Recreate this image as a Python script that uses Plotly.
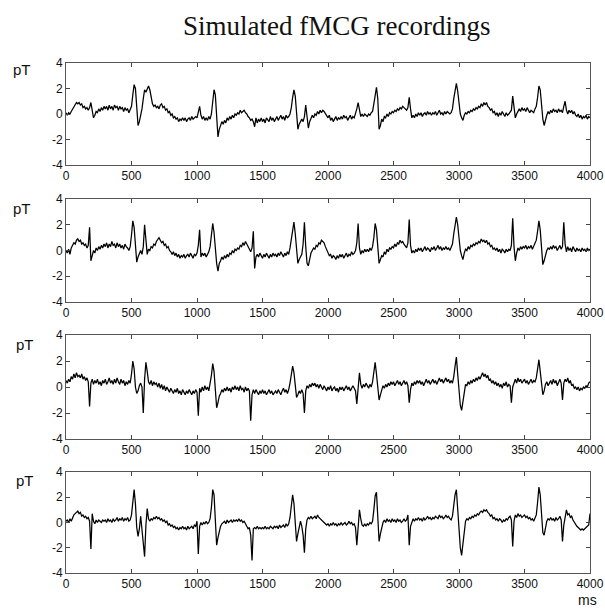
import plotly.graph_objects as go

# sample interval (ms) of the hand-read traces
step_ms = 10

ch1 = [
    0.1,-0.1,0.1,0.0,0.2,0.4,0.6,0.8,0.9,0.8,
    0.9,0.7,0.8,0.5,0.6,0.4,0.5,0.3,0.5,0.9,
    0.2,-0.3,-0.1,0.2,0.1,0.4,0.2,0.5,0.3,0.6,
    0.4,0.6,0.3,0.7,0.4,0.6,0.3,0.7,0.5,0.6,
    0.3,0.6,0.4,0.5,0.2,0.5,0.3,0.4,0.1,0.3,
    0.6,1.5,2.3,2.0,0.5,-0.9,-0.6,-0.1,0.4,1.2,
    1.9,1.7,2.0,2.2,1.9,1.2,0.8,0.6,0.7,0.5,
    0.6,0.4,0.7,0.8,0.5,0.6,0.3,0.4,0.1,0.2,
    -0.1,0.0,-0.3,-0.2,-0.4,-0.3,-0.6,-0.4,-0.5,-0.3,
    -0.5,-0.3,-0.6,-0.4,-0.3,-0.5,-0.2,-0.4,-0.3,-0.2,
    -0.3,0.1,0.6,-0.1,-0.4,-0.2,-0.5,-0.3,-0.5,-0.2,
    -0.4,0.0,0.9,1.9,1.5,-0.2,-1.8,-1.2,-0.9,-0.6,
    -0.8,-0.5,-0.7,-0.3,-0.5,-0.2,-0.4,-0.1,-0.3,0.0,
    -0.1,0.1,0.0,0.3,0.1,0.2,0.3,0.1,0.0,-0.2,
    -0.3,-0.5,-0.4,-0.6,-1.0,-0.3,-0.7,-0.4,-0.6,-0.3,
    -0.6,-0.4,-0.7,-0.3,-0.5,-0.6,-0.2,-0.5,-0.3,-0.6,
    -0.4,-0.2,-0.5,-0.3,-0.1,-0.4,-0.2,-0.5,-0.1,-0.3,
    -0.2,0.0,0.5,1.3,1.9,1.4,0.2,-1.2,-0.8,-0.6,
    -0.4,-0.6,-0.2,0.7,-0.2,-1.1,-0.6,-0.4,-0.1,-0.3,
    0.0,-0.1,0.2,0.0,0.3,0.1,0.3,0.2,0.0,-0.2,
    -0.3,-0.1,-0.5,-0.3,-0.6,-0.4,-0.2,-0.5,-0.3,-0.4,
    -0.2,-0.4,-0.1,-0.3,-0.2,-0.5,-0.3,-0.1,-0.4,-0.2,
    -0.3,0.0,0.4,0.9,0.2,-0.2,0.0,-0.2,0.0,-0.1,
    -0.2,0.0,-0.1,0.1,0.2,0.8,1.6,2.1,1.2,-1.2,
    -0.9,-0.4,-0.6,-0.2,-0.3,0.0,-0.2,0.1,0.0,0.2,
    0.1,0.3,0.2,0.4,0.3,0.5,0.4,0.6,0.5,0.4,
    0.3,0.5,1.3,0.4,-0.3,-0.1,-0.3,0.0,-0.2,0.1,
    -0.1,0.1,-0.2,0.0,0.1,-0.1,0.2,0.0,0.1,-0.1,
    0.1,0.0,0.2,-0.1,0.1,0.3,0.0,0.1,-0.1,0.2,
    0.0,0.2,0.1,0.0,0.1,0.4,1.2,2.0,2.4,1.8,
    0.6,0.0,-0.3,-0.5,-0.1,0.1,0.0,0.2,0.1,0.3,
    0.2,0.4,0.3,0.5,0.4,0.6,0.5,0.8,0.6,0.9,
    0.7,0.9,0.6,0.5,0.3,0.4,0.1,0.2,-0.1,0.1,
    -0.2,0.1,-0.1,0.2,0.0,-0.2,0.1,-0.1,0.0,0.2,
    0.3,1.4,0.6,-0.3,0.0,0.2,0.4,0.2,0.5,0.3,
    0.4,0.2,0.5,0.3,0.1,0.3,0.2,0.1,0.4,0.6,
    1.3,2.2,1.9,0.5,-0.4,-0.9,-0.4,-0.1,0.2,0.0,
    0.3,0.1,0.4,0.2,0.3,0.1,0.4,0.2,0.3,0.1,
    0.6,1.0,0.3,0.0,0.3,0.1,0.3,0.0,0.2,-0.1,
    -0.2,0.0,-0.3,-0.1,-0.4,-0.2,-0.3,-0.1,-0.4,-0.2,
    -0.3,
]

ch2 = [
    0.0,-0.2,0.1,-0.3,0.2,0.4,0.6,0.5,0.8,0.9,
    0.7,0.8,0.5,0.6,0.4,0.5,0.2,0.4,1.8,-0.8,
    -0.3,0.0,-0.2,0.2,0.0,0.3,0.1,0.4,0.2,0.5,
    0.3,0.6,0.2,0.5,0.3,0.7,0.4,0.5,0.2,0.6,
    0.3,0.5,0.2,0.4,0.1,0.5,0.3,0.2,0.0,0.3,
    1.2,2.3,1.8,0.2,-0.9,-0.5,-0.2,0.0,-0.3,0.3,
    2.0,0.5,-0.3,0.1,0.0,0.3,0.2,0.5,0.4,0.7,
    0.9,1.0,0.8,0.6,0.7,0.4,0.5,0.2,0.3,0.0,
    -0.1,-0.3,-0.1,-0.4,-0.2,-0.5,-0.3,-0.6,-0.4,-0.5,
    -0.3,-0.6,-0.4,-0.3,-0.5,-0.2,-0.4,-0.6,-0.3,-0.4,
    -0.2,0.4,1.6,-0.5,-0.2,-0.4,-0.2,-0.5,-0.3,-0.1,
    0.3,1.3,2.1,1.4,0.0,-1.0,-1.6,-1.0,-0.8,-0.5,
    -0.7,-0.4,-0.6,-0.3,-0.5,-0.2,-0.3,0.0,-0.2,0.1,
    0.0,0.2,0.1,0.4,0.3,0.6,0.4,0.7,0.5,0.3,
    0.1,-0.1,0.2,1.5,-1.4,-0.5,-0.3,-0.5,-0.2,-0.4,
    -0.6,-0.3,-0.5,-0.2,-0.4,-0.6,-0.3,-0.5,-0.2,-0.4,
    -0.3,-0.5,-0.2,-0.4,-0.1,-0.3,-0.5,-0.2,-0.4,-0.1,
    -0.3,0.2,0.9,1.8,2.2,1.3,-0.2,-1.0,-0.7,-0.5,
    -0.3,0.5,2.2,0.3,-1.0,-1.2,-0.6,-0.2,0.0,0.2,
    0.1,0.4,0.3,0.6,0.5,0.8,0.7,0.6,0.3,0.1,
    -0.2,-0.4,-0.3,-0.6,-0.4,-0.5,-0.7,-0.4,-0.6,-0.3,
    -0.5,-0.3,-0.6,-0.4,-0.2,-0.5,-0.3,-0.4,-0.1,-0.3,
    -0.2,0.0,0.6,2.1,0.2,-0.3,0.0,-0.2,0.1,-0.1,
    0.1,-0.1,0.2,0.0,0.3,1.0,2.1,1.6,0.2,-1.0,
    -0.7,-0.4,-0.5,-0.1,-0.3,0.1,-0.1,0.2,0.1,0.3,
    0.2,0.5,0.3,0.6,0.5,0.8,0.6,0.7,0.5,0.3,
    0.2,0.6,2.4,0.4,-0.2,0.0,-0.2,0.1,-0.1,0.2,
    0.0,0.2,-0.1,0.1,0.3,0.0,0.2,0.1,-0.1,0.2,
    0.1,0.3,0.0,0.2,0.4,0.1,0.3,0.0,0.2,0.1,
    0.3,0.1,0.2,0.0,0.2,0.5,1.3,2.1,2.6,2.0,
    0.8,0.0,-0.4,-0.7,-0.2,0.1,0.0,0.3,0.1,0.4,
    0.3,0.5,0.4,0.6,0.5,0.7,0.6,0.9,0.7,0.8,
    0.6,0.8,0.5,0.6,0.3,0.4,0.1,0.2,0.0,0.2,
    -0.1,0.1,-0.2,0.1,0.0,-0.2,0.1,-0.1,0.1,0.0,
    0.4,2.5,0.3,-0.8,-0.2,0.2,0.0,0.3,0.1,0.3,
    0.2,0.4,0.1,0.3,0.2,0.4,0.1,0.3,0.5,0.8,
    1.5,2.3,1.6,0.2,-1.1,-0.8,-0.3,0.0,0.2,0.1,
    0.3,0.1,0.4,0.2,0.3,0.0,0.2,0.4,0.1,0.3,
    2.2,0.5,-0.1,0.3,0.0,0.2,-0.1,0.3,0.1,-0.1,
    0.2,0.0,0.1,-0.1,0.2,0.0,0.1,-0.1,0.2,0.0,
    0.1,
]

ch3 = [
    0.5,0.3,0.6,0.4,0.8,0.6,1.0,0.7,1.1,0.8,
    0.9,0.7,1.0,0.6,0.8,0.5,0.7,0.4,-1.5,0.3,
    0.6,0.2,0.5,0.3,0.6,0.2,0.4,0.1,0.5,0.3,
    0.6,0.2,0.4,0.7,0.3,0.5,0.2,0.6,0.3,0.7,
    0.4,0.2,0.6,0.3,0.5,0.1,0.4,0.2,0.5,0.3,
    1.0,2.0,1.4,0.0,-0.5,-0.3,0.1,0.3,0.0,-2.0,
    0.6,1.9,1.2,0.4,0.2,0.5,0.1,0.4,0.2,0.3,
    0.0,0.3,-0.1,0.2,-0.2,0.1,-0.3,0.0,-0.2,-0.4,
    -0.1,-0.3,-0.5,-0.2,-0.4,-0.1,-0.5,-0.3,-0.6,-0.2,
    -0.4,-0.6,-0.3,-0.5,-0.2,-0.4,-0.6,-0.3,-0.5,-0.2,
    -0.4,-2.2,-0.1,-0.4,0.0,-0.3,0.1,-0.2,0.0,-0.3,
    0.2,0.9,1.8,1.2,-0.2,-1.6,-1.2,-0.7,-0.5,-0.2,
    -0.4,-0.1,-0.3,0.0,-0.3,-0.1,-0.4,0.0,-0.2,0.1,
    -0.2,0.0,-0.3,0.1,-0.2,-0.1,-0.4,0.0,-0.3,-0.1,
    -0.3,-2.6,-0.6,-0.2,-0.5,-0.2,-0.4,-0.6,-0.3,-0.5,
    -0.2,-0.5,-0.3,-0.6,-0.4,-0.2,-0.5,-0.3,-0.6,-0.4,
    -0.3,-0.5,-0.2,-0.4,-0.6,-0.3,-0.1,-0.4,-0.2,-0.5,
    -0.2,0.3,1.0,1.6,1.1,-0.2,-0.8,-0.6,-0.3,-0.5,
    -0.2,-0.5,-2.0,-0.3,0.1,-0.1,0.2,0.0,0.3,0.1,
    0.3,0.0,0.2,-0.1,0.2,0.0,-0.2,0.1,-0.1,-0.3,
    0.0,-0.2,0.1,-0.3,-0.1,0.0,-0.3,-0.1,-0.4,0.0,
    -0.2,0.0,-0.3,-0.1,0.1,-0.2,0.0,-0.3,-0.1,0.1,
    -0.1,-0.3,-1.3,0.2,1.1,0.2,-0.1,0.2,0.0,0.3,
    0.1,-0.1,0.2,0.0,0.4,1.2,1.9,1.0,-0.3,-1.0,
    -0.6,-0.2,0.1,-0.1,0.2,0.0,0.3,0.1,0.4,0.2,
    0.4,0.1,0.3,0.5,0.2,0.4,0.1,0.3,0.5,0.2,
    0.4,0.1,-1.2,-0.2,0.3,0.1,0.4,0.2,0.5,0.3,
    0.5,0.2,0.4,0.1,0.3,0.6,0.3,0.5,0.2,0.4,
    0.6,0.3,0.5,0.2,0.4,0.7,0.4,0.6,0.3,0.5,
    0.7,0.4,0.6,0.3,0.5,0.3,0.8,1.6,2.3,1.0,
    -0.6,-1.4,-1.8,-1.0,-0.3,0.2,0.1,0.4,0.2,0.5,
    0.3,0.6,0.4,0.7,0.5,0.8,0.6,0.9,1.1,0.8,
    1.0,0.7,0.9,0.5,0.6,0.3,0.5,0.2,0.4,0.1,
    0.3,0.0,0.2,-0.1,0.3,0.1,0.4,0.0,0.2,0.1,
    -1.2,0.0,0.4,0.6,0.3,0.7,0.4,0.6,0.3,0.5,
    0.6,0.3,0.5,0.2,0.4,0.6,0.3,0.5,0.4,0.7,
    1.4,2.1,1.2,0.0,-0.6,-0.3,0.2,0.4,0.1,0.3,
    0.5,0.2,0.6,0.3,0.5,0.1,0.4,0.6,0.3,-1.0,
    0.3,0.6,0.4,0.7,0.3,0.5,0.1,0.2,-0.1,0.0,
    -0.2,0.0,-0.3,-0.1,-0.2,0.0,-0.1,0.1,0.0,0.3,
    0.4,
]

ch4 = [
    0.1,0.2,0.0,0.3,0.1,0.4,0.6,0.7,0.8,0.9,
    0.7,0.8,0.5,0.6,0.4,0.5,0.3,0.4,0.1,-2.1,
    0.7,0.1,-0.1,0.2,0.0,0.2,0.1,0.0,0.2,0.1,
    0.2,0.0,0.3,0.1,0.2,0.0,0.3,0.1,0.2,0.4,
    0.1,0.3,0.2,0.4,0.1,0.3,0.2,0.4,0.1,0.2,
    0.6,1.8,2.6,1.5,-0.4,-1.1,-0.5,0.5,-0.8,-1.6,
    -2.7,-0.2,1.1,0.3,0.1,0.3,0.2,0.4,0.3,0.5,
    0.3,0.4,0.2,0.3,0.1,0.2,0.0,0.1,-0.2,-0.1,
    -0.3,-0.2,-0.4,-0.3,-0.5,-0.4,-0.6,-0.4,-0.5,-0.3,
    -0.5,-0.4,-0.6,-0.3,-0.5,-0.4,-0.3,-0.5,-0.2,-0.3,
    0.1,-2.5,-0.3,0.0,-0.2,0.0,-0.1,0.1,-0.1,0.0,
    0.3,1.2,2.6,2.2,0.3,-1.8,-1.2,-0.6,-0.3,-0.1,
    0.0,0.1,-0.1,0.2,0.0,0.1,0.2,0.0,0.2,0.1,
    0.2,0.1,0.3,0.1,0.2,0.0,0.1,-0.1,-0.3,-0.5,
    -0.4,-1.0,-3.0,-0.5,-0.4,-0.5,-0.3,-0.5,-0.4,-0.5,
    -0.4,-0.5,-0.3,-0.5,-0.4,-0.5,-0.3,-0.4,-0.5,-0.3,
    -0.4,-0.3,-0.5,-0.2,-0.4,-0.3,-0.2,-0.4,-0.1,-0.3,
    -0.1,0.4,1.4,2.2,1.5,-0.3,-1.5,-0.9,-0.3,0.1,
    -0.3,-1.0,-2.4,-0.5,0.2,0.4,0.3,0.5,0.3,0.4,
    0.5,0.3,0.6,0.4,0.3,0.2,0.1,0.0,-0.1,-0.2,
    -0.1,-0.3,-0.1,-0.2,0.0,-0.2,-0.1,-0.3,-0.1,-0.2,
    0.0,-0.2,-0.1,0.0,-0.2,-0.1,0.1,-0.1,0.0,-0.2,
    -0.1,-0.4,-1.8,-0.2,1.0,0.3,-0.2,-0.3,-0.1,-0.3,
    -0.1,-0.2,0.0,-0.1,0.1,1.0,2.1,2.4,0.2,-1.5,
    -0.9,-0.3,0.0,0.2,0.0,0.3,0.1,0.2,0.0,0.3,
    0.1,0.2,0.0,0.3,0.1,0.2,0.0,0.1,0.3,0.1,
    0.2,0.6,-1.8,-0.3,0.1,0.3,0.1,0.3,0.2,0.4,
    0.2,0.3,0.1,0.4,0.2,0.3,0.5,0.3,0.4,0.2,
    0.4,0.3,0.5,0.4,0.3,0.6,0.4,0.5,0.3,0.4,
    0.6,0.4,0.5,0.3,0.2,0.5,1.4,2.2,2.6,1.2,
    -0.8,-2.0,-2.6,-1.6,-0.4,0.1,0.3,0.2,0.4,0.3,
    0.5,0.4,0.6,0.5,0.7,0.6,0.8,0.9,0.8,1.0,
    0.9,1.0,0.8,0.7,0.5,0.6,0.3,0.4,0.2,0.3,
    0.1,0.3,0.2,0.0,0.2,0.1,0.3,0.2,0.4,0.5,
    0.2,-1.9,0.1,0.6,0.4,0.7,0.5,0.6,0.4,0.5,
    0.6,0.4,0.5,0.3,0.4,0.2,0.3,0.1,0.3,0.6,
    1.6,2.8,2.2,0.4,-0.8,-1.0,-0.3,0.1,0.3,0.2,
    0.4,0.2,0.3,0.1,0.4,0.2,0.3,0.5,0.2,-1.5,
    -0.2,0.6,1.0,0.6,0.7,0.4,0.5,0.2,0.0,-0.2,
    -0.3,-0.4,-0.5,-0.6,-0.5,-0.6,-0.5,-0.4,-0.3,-0.2,
    0.7,
]

channels = [ch1, ch2, ch3, ch4]
x_ticks = [0, 500, 1000, 1500, 2000, 2500, 3000, 3500, 4000]
y_ticks = [-4, -2, 0, 2, 4]
title_text = "Simulated fMCG recordings"
y_unit = "pT"
x_unit = "ms"

W, H = 605, 609
# pixel boxes (top, bottom) of the four panels
panel_px = [(63, 165), (199, 302), (335, 439), (472, 573)]
left_px, right_px = 66, 590

fig = go.Figure()
axis_font = dict(family="Liberation Sans, Arial, sans-serif", size=12, color="#111")
layout = dict(
    template="none",
    width=W, height=H,
    margin=dict(l=0, r=0, t=0, b=0, pad=0, autoexpand=False),
    paper_bgcolor="white", plot_bgcolor="white",
    showlegend=False,
)

for i, ch in enumerate(channels):
    n = i + 1
    xs = [k * step_ms for k in range(len(ch))]
    fig.add_trace(go.Scatter(
        x=xs, y=ch, mode="lines",
        line=dict(color="#000000", width=1.25),
        xaxis=f"x{n}" if n > 1 else "x",
        yaxis=f"y{n}" if n > 1 else "y",
        hoverinfo="skip",
    ))
    top, bot = panel_px[i]
    xd = [left_px / W, right_px / W]
    yd = [1 - bot / H, 1 - top / H]
    xk = "xaxis" if n == 1 else f"xaxis{n}"
    yk = "yaxis" if n == 1 else f"yaxis{n}"
    layout[xk] = dict(
        domain=xd, anchor="y" if n == 1 else f"y{n}", automargin=False,
        range=[0, 4000], tickvals=x_ticks, ticktext=[str(v) for v in x_ticks],
        ticks="inside", ticklen=4, tickcolor="#444", showline=True,
        linecolor="#555", linewidth=1, mirror="ticks", showgrid=False,
        zeroline=False, tickfont=axis_font, fixedrange=True,
    )
    layout[yk] = dict(
        domain=yd, anchor="x" if n == 1 else f"x{n}", automargin=False,
        range=[-4, 4], tickvals=y_ticks, ticktext=[str(v) for v in y_ticks],
        ticks="inside", ticklen=4, tickcolor="#444", showline=True,
        linecolor="#555", linewidth=1, mirror="ticks", showgrid=False,
        zeroline=False, tickfont=axis_font, fixedrange=True,
    )

fig.update_layout(**layout)

annotations = [
    dict(text=title_text, x=336 / W, y=1 - 26 / H, xref="paper", yref="paper",
         showarrow=False, xanchor="center", yanchor="middle",
         font=dict(family="Liberation Serif, Times New Roman, serif", size=27, color="#111")),
]
pt_pos = [(22, 70), (22, 208), (25, 344), (25, 480)]
for (px, py) in pt_pos:
    annotations.append(dict(text=y_unit, x=px / W, y=1 - py / H, xref="paper", yref="paper",
                            showarrow=False, xanchor="center", yanchor="middle",
                            font=dict(family="Liberation Sans, Arial, sans-serif", size=15, color="#111")))
annotations.append(dict(text=x_unit, x=587 / W, y=1 - 600 / H, xref="paper", yref="paper",
                        showarrow=False, xanchor="center", yanchor="middle",
                        font=dict(family="Liberation Sans, Arial, sans-serif", size=14, color="#111")))
fig.update_layout(annotations=annotations)

# remove the default page margin so the 605x609 figure fills the window exactly
fig.write_html("out.html", config={"displayModeBar": False},
               post_script="document.body.style.margin='0';")
